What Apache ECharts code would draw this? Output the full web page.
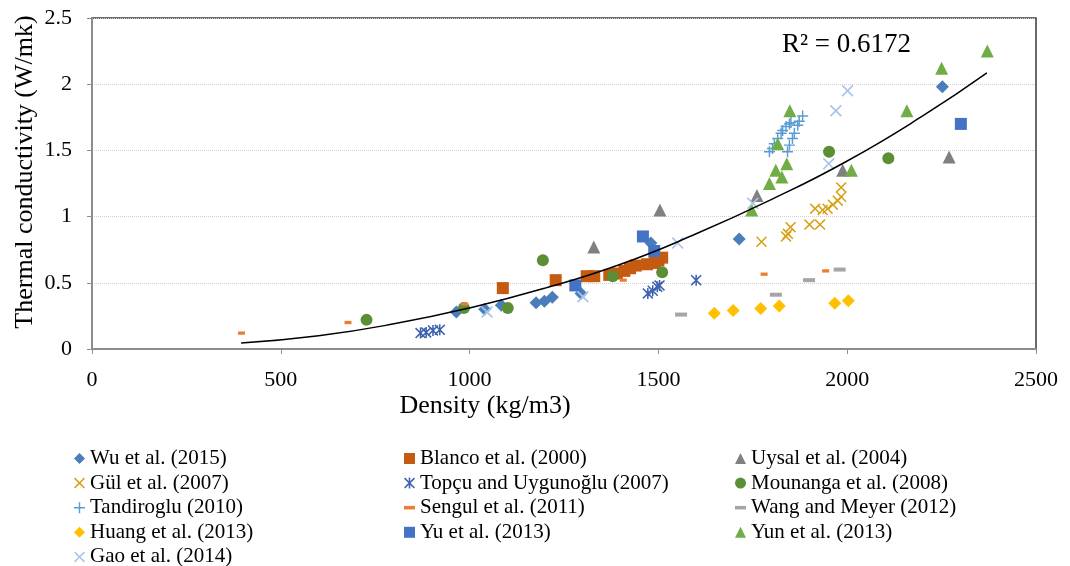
<!DOCTYPE html>
<html><head><meta charset="utf-8">
<script src="https://cdn.jsdelivr.net/npm/echarts@6/dist/echarts.min.js"></script>
<style>html,body{margin:0;padding:0;background:#fff}#c{width:1070px;height:566px}</style>
</head><body><div id="c"></div>
<script>
// ---- data (density kg/m3, thermal conductivity W/mK) ----
const wu2015 = [[965,0.28],[1040,0.30],[1084,0.33],[1176,0.35],[1198,0.36],[1219,0.39],[1295,0.42],[1480,0.80],[1714,0.83],[2252,1.98]];
const blanco2000 = [[1088,0.46],[1228,0.52],[1310,0.55],[1330,0.55],[1370,0.56],[1390,0.57],[1410,0.59],[1425,0.61],[1440,0.63],[1470,0.64],[1490,0.65],[1500,0.67],[1510,0.69]];
const uysal2004 = [[1329,0.77],[1504,1.05],[1761,1.16],[1988,1.35],[2270,1.45]];
const gul2007 = [[1773,0.81],[1838,0.85],[1843,0.87],[1850,0.92],[1900,0.94],[1928,0.94],[1915,1.06],[1935,1.05],[1948,1.06],[1962,1.09],[1975,1.12],[1984,1.15],[1984,1.22]];
const topcu2007 = [[870,0.12],[885,0.125],[903,0.14],[921,0.145],[1472,0.42],[1485,0.44],[1497,0.47],[1503,0.48],[1600,0.52]];
const mounanga2008 = [[727,0.22],[985,0.31],[1101,0.31],[1194,0.67],[1379,0.55],[1510,0.58],[1952,1.49],[2109,1.44]];
const tandiroglu2010 = [[1794,1.49],[1802,1.515],[1807,1.55],[1816,1.59],[1825,1.63],[1829,1.65],[1838,1.68],[1847,1.70],[1851,1.71],[1842,1.49],[1847,1.54],[1855,1.59],[1860,1.63],[1869,1.69],[1873,1.72],[1882,1.76]];
const sengul2011 = [[396,0.12],[678,0.20],[987,0.34],[1407,0.52],[1780,0.565],[1943,0.59]];
const wang2012 = [[1560,0.26],[1811,0.41],[1899,0.52],[1980,0.60]];
const huang2013 = [[1648,0.27],[1698,0.29],[1771,0.305],[1820,0.325],[1967,0.345],[2003,0.365]];
const yu2013 = [[1280,0.48],[1459,0.85],[1489,0.74],[2301,1.70]];
const yun2013 = [[1747,1.05],[1794,1.25],[1811,1.35],[1816,1.55],[1827,1.30],[1840,1.40],[1848,1.80],[2011,1.35],[2158,1.80],[2250,2.12],[2371,2.25]];
const gao2014 = [[1046,0.28],[1300,0.395],[1551,0.80],[1750,1.10],[1951,1.40],[1970,1.80],[2001,1.95]];
// trendline
const trendline = [[395,0.045],[600,0.10],[800,0.19],[1000,0.31],[1200,0.46],[1400,0.64],[1600,0.87],[1800,1.13],[2000,1.42],[2200,1.76],[2370,2.085]];
const xTicks = [0,500,1000,1500,2000,2500];
const yTicks = [0,0.5,1,1.5,2,2.5];
const xTitle = 'Density (kg/m3)';
const yTitle = 'Thermal conductivity (W/mk)';
const r2Label = 'R² = 0.6172';

const FONT = "'Liberation Serif','Times New Roman',serif";
const P_X = 'path://M0,1 L1,0 L5,4 L9,0 L10,1 L6,5 L10,9 L9,10 L5,6 L1,10 L0,9 L4,5 Z';
const P_STAR = 'path://M0,1 L1,0 L5,4 L9,0 L10,1 L6,5 L10,9 L9,10 L5,6 L1,10 L0,9 L4,5 Z M4.3,0 H5.7 V10 H4.3 Z';
const P_PLUS = 'path://M4.35,0 H5.65 V4.35 H10 V5.65 H5.65 V10 H4.35 V5.65 H0 V4.35 H4.35 Z';
const P_DASH = 'path://M0,0 H10 V3.2 H0 Z';

const defs = [
  {name:'Wu et al. (2015)', data:wu2015, symbol:'diamond', size:13, color:'#4A7EBB', icon:'diamond'},
  {name:'Blanco et al. (2000)', data:blanco2000, symbol:'rect', size:12, color:'#C55A11', icon:'rect'},
  {name:'Uysal et al. (2004)', data:uysal2004, symbol:'triangle', size:13, color:'#808080', icon:'triangle'},
  {name:'Gül et al. (2007)', data:gul2007, symbol:P_X, size:11, color:'#D6A21A', icon:P_X},
  {name:'Topçu and Uygunoğlu (2007)', data:topcu2007, symbol:P_STAR, size:11, color:'#3F62AE', icon:P_STAR},
  {name:'Mounanga et al. (2008)', data:mounanga2008, symbol:'circle', size:12, color:'#5B8E35', icon:'circle'},
  {name:'Tandiroglu (2010)', data:tandiroglu2010, symbol:P_PLUS, size:11, color:'#5B9BD5', icon:P_PLUS},
  {name:'Sengul et al. (2011)', data:sengul2011, symbol:'rect', size:[7,3.3], color:'#ED7D31', icon:P_DASH},
  {name:'Wang and Meyer (2012)', data:wang2012, symbol:'rect', size:[12,4], color:'#A5A5A5', icon:P_DASH},
  {name:'Huang et al. (2013)', data:huang2013, symbol:'diamond', size:13, color:'#FFC000', icon:'diamond'},
  {name:'Yu et al. (2013)', data:yu2013, symbol:'rect', size:12, color:'#4472C4', icon:'rect'},
  {name:'Yun et al. (2013)', data:yun2013, symbol:'triangle', size:13, color:'#70AD47', icon:'triangle'},
  {name:'Gao et al. (2014)', data:gao2014, symbol:P_X, size:12, color:'#A9C4EB', icon:P_X}
];

const series = defs.map(d => ({
  name: d.name, type: 'scatter', data: d.data, symbol: d.symbol, symbolSize: d.size,
  itemStyle: {color: d.color, opacity: 1}, emphasis: {disabled: true}, z: 3
}));
series.push({
  name: 'trend', type: 'line', data: trendline, smooth: true, showSymbol: false, symbol: 'none',
  lineStyle: {color: '#000', width: 1.5}, z: 4, silent: true
});

const col1 = [0,3,6,9,12], col2 = [1,4,7,10], col3 = [2,5,8,11];
function legendCol(idx, left) {
  return {
    orient: 'vertical', left: left, top: 448, height: 140, padding: 0,
    itemWidth: 11, itemHeight: 11, itemGap: 3.6,
    selectedMode: false,
    textStyle: {fontFamily: FONT, fontSize: 21, color: '#000'},
    data: idx.map(i => ({name: defs[i].name, icon: defs[i].icon}))
  };
}

const chart = echarts.init(document.getElementById('c'));
chart.setOption({
  animation: false,
  backgroundColor: '#fff',
  grid: {left: 92, top: 18, right: 34, bottom: 217, show: true, borderColor: '#3a3a3a', borderWidth: 1.5},
  xAxis: {
    type: 'value', min: xTicks[0], max: xTicks[xTicks.length-1], interval: 500,
    axisLine: {show: true, lineStyle: {color: '#8c8c8c', width: 2}},
    axisTick: {show: true, length: 5, lineStyle: {color: '#8c8c8c'}},
    axisLabel: {fontFamily: FONT, fontSize: 22, color: '#000', margin: 20, formatter: v => String(v)},
    splitLine: {show: false}
  },
  yAxis: {
    type: 'value', min: yTicks[0], max: yTicks[yTicks.length-1], interval: 0.5,
    axisLine: {show: true, lineStyle: {color: '#8c8c8c', width: 2}},
    axisTick: {show: true, length: 5, lineStyle: {color: '#8c8c8c'}},
    axisLabel: {fontFamily: FONT, fontSize: 22, color: '#000', margin: 20, formatter: v => String(v)},
    splitLine: {show: true, lineStyle: {color: '#d0d0d0', type: 'dotted', width: 1}}
  },
  legend: [legendCol(col1, 74), legendCol(col2, 404), legendCol(col3, 735)],
  graphic: [
    {type: 'text', x: 782, y: 31, silent: true,
     style: {text: r2Label, fontFamily: FONT, fontSize: 27, fill: '#000'}},
    {type: 'text', x: 485, y: 406, silent: true,
     style: {text: xTitle, fontFamily: FONT, fontSize: 26, fill: '#000', align: 'center', verticalAlign: 'middle'}},
    {type: 'text', x: 25, y: 172, rotation: Math.PI / 2, silent: true,
     style: {text: yTitle, fontFamily: FONT, fontSize: 26, fill: '#000', align: 'center', verticalAlign: 'middle'}}
  ],
  series: series
});
</script>
</body></html>
